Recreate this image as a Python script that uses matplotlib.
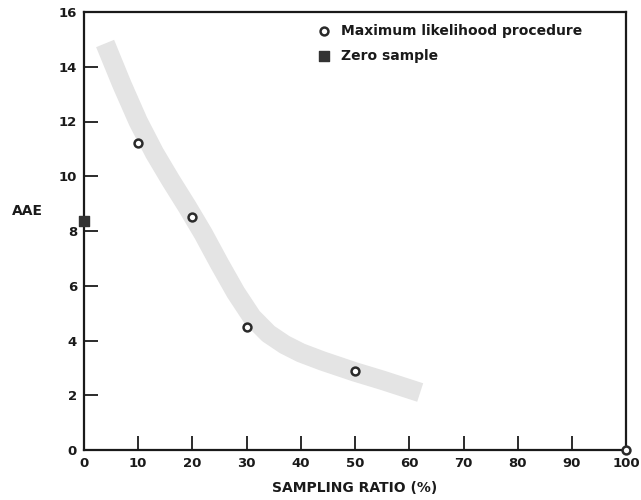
import matplotlib
matplotlib.use("Agg")
import matplotlib.pyplot as plt

plt.rcParams['font.family'] = ['DejaVu Sans']

# Maximum likelihood estimates
ml_ratio = [10, 20, 30, 50, 100]
ml_aae = [11.2, 8.5, 4.5, 2.9, 0.0]

# Zero-sample reference
zero_ratio = [0]
zero_aae = [8.35]

# Shaded trend band (centre line)
band_ratio = [3.9, 7, 10, 13, 16, 19, 22, 25, 28, 31, 34, 37, 40, 44, 50, 55, 62]
band_aae = [14.85, 13.35, 12.0, 10.85, 9.85, 8.9, 7.9, 6.8, 5.75, 4.85, 4.25,
            3.85, 3.55, 3.25, 2.85, 2.55, 2.1]

x_ticks = [0, 10, 20, 30, 40, 50, 60, 70, 80, 90, 100]
y_ticks = [0, 2, 4, 6, 8, 10, 12, 14, 16]

ink = '#1a1a1a'

fig = plt.figure(figsize=(6.41, 5.00), dpi=100)
ax = fig.add_axes([0.131, 0.10, 0.846, 0.876])

ax.plot(band_ratio, band_aae, color='#e4e4e4', lw=14, solid_capstyle='butt',
        solid_joinstyle='round', zorder=1)

ml = ax.scatter(ml_ratio, ml_aae, s=32, facecolors='white', edgecolors='#2a2a2a',
                linewidths=1.8, zorder=4, clip_on=False,
                label='Maximum likelihood procedure')
zs = ax.scatter(zero_ratio, zero_aae, s=50, marker='s', color='#333333',
                zorder=4, clip_on=False, label='Zero sample')

ax.set_xlim(0, 100)
ax.set_ylim(0, 16)
ax.set_xticks(x_ticks)
ax.set_yticks(y_ticks)
ax.set_xticklabels([str(v) for v in x_ticks], fontsize=9.5, fontweight='bold', color=ink)
ax.set_yticklabels([str(v) for v in y_ticks], fontsize=9.5, fontweight='bold', color=ink)
ax.tick_params(direction='in', length=10, width=1.3, color=ink, pad=5)

for side in ['left', 'right', 'top', 'bottom']:
    ax.spines[side].set_linewidth(1.6)
    ax.spines[side].set_color(ink)

ax.set_xlabel('SAMPLING RATIO (%)', fontsize=10, fontweight='bold', color=ink, labelpad=8)
ax.set_ylabel('AAE', fontsize=10, fontweight='bold', color=ink, rotation=0,
              va='center', ha='center')
ax.yaxis.set_label_coords(-0.105, 0.545)

leg = ax.legend(handles=[ml, zs], loc='upper left', bbox_to_anchor=(0.42, 0.985),
                frameon=False, fontsize=10, handletextpad=0.7, labelspacing=0.75,
                borderaxespad=0, handlelength=1.0)
for t in leg.get_texts():
    t.set_fontweight('bold')
    t.set_color(ink)

fig.savefig('out.png', dpi=100, facecolor='white')
